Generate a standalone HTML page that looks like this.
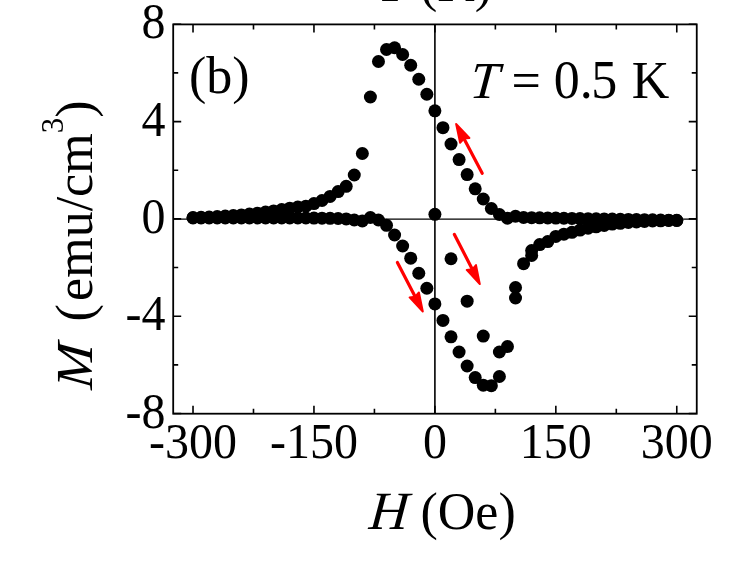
<!DOCTYPE html>
<html><head><meta charset="utf-8"><title>M-H loop</title>
<style>
html,body{margin:0;padding:0;background:#fff}
svg{display:block}
text{font-family:"Liberation Serif","Times New Roman",serif;fill:#000}
</style></head>
<body>
<svg width="732" height="564" viewBox="0 0 732 564">
<rect width="732" height="564" fill="#fff"/>
<g font-size="52">
<text transform="translate(377.5,1.4) skewX(-5)" font-style="italic">T</text>
<text x="419.9" y="1.4">(K)</text>
<text x="189" y="93">(b)</text>
<text transform="translate(469,97.5) skewX(-5)" font-style="italic">T</text>
<text x="511.5" y="97.5">=</text><text transform="translate(553.8,97.5) scale(1,1.045)">0.<tspan dx="-1.5">5</tspan></text><text x="631.8" y="97.5">K</text>
<text transform="translate(368.3,529.3) skewX(-5)" font-style="italic" font-size="54">H</text>
<text x="420.5" y="529.3">(Oe)</text>
<text transform="translate(91.9,390) rotate(-90) skewX(-5) scale(1.05,1)" font-style="italic">M</text>
<text transform="translate(92.3,321.4) rotate(-90)">(<tspan dx="3.2">emu/cm</tspan><tspan font-size="31" dy="-29.2">3</tspan><tspan dy="29.2">)</tspan></text>
</g>
<g font-size="48"><text transform="translate(193.0,458.3) scale(1,1.045)" text-anchor="middle">-300</text><text transform="translate(314.0,458.3) scale(1,1.045)" text-anchor="middle">-150</text><text transform="translate(434.9,458.3) scale(1,1.045)" text-anchor="middle">0</text><text transform="translate(555.8,458.3) scale(1,1.045)" text-anchor="middle">150</text><text transform="translate(676.8,458.3) scale(1,1.045)" text-anchor="middle">300</text><text transform="translate(165.5,427.5) scale(1,1.045)" text-anchor="end">-8</text><text transform="translate(165.5,330.2) scale(1,1.045)" text-anchor="end">-4</text><text transform="translate(165.5,232.9) scale(1,1.045)" text-anchor="end">0</text><text transform="translate(165.5,135.6) scale(1,1.045)" text-anchor="end">4</text><text transform="translate(165.5,38.3) scale(1,1.045)" text-anchor="end">8</text></g>
<g fill="none" stroke="#000">
<rect x="173.2" y="24.4" width="523.55" height="389.3" stroke-width="1.8"/>
<path d="M193.02 24.4v8 M193.02 413.7v-8 M313.96 24.4v8 M313.96 413.7v-8 M434.90 24.4v8 M434.90 413.7v-8 M555.84 24.4v8 M555.84 413.7v-8 M676.77 24.4v8 M676.77 413.7v-8 M253.49 24.4v5 M253.49 413.7v-5 M374.43 24.4v5 M374.43 413.7v-5 M495.37 24.4v5 M495.37 413.7v-5 M616.31 24.4v5 M616.31 413.7v-5 M173.2 413.54h8 M696.75 413.54h-8 M173.2 316.22h8 M696.75 316.22h-8 M173.2 218.90h8 M696.75 218.90h-8 M173.2 121.58h8 M696.75 121.58h-8 M173.2 24.26h8 M696.75 24.26h-8 M173.2 364.88h5 M696.75 364.88h-5 M173.2 267.56h5 M696.75 267.56h-5 M173.2 170.24h5 M696.75 170.24h-5 M173.2 72.92h5 M696.75 72.92h-5" stroke-width="1.6"/>
<path d="M173.2 219.15H696.75" stroke-width="1.3"/><path d="M434.9 24.4V413.7" stroke-width="1.6"/>
</g>
<g fill="#000">
<circle cx="193.02" cy="217.50" r="6.5"/>
<circle cx="201.09" cy="217.30" r="6.5"/>
<circle cx="209.15" cy="217.00" r="6.5"/>
<circle cx="217.21" cy="216.60" r="6.5"/>
<circle cx="225.27" cy="216.10" r="6.5"/>
<circle cx="233.34" cy="215.60" r="6.5"/>
<circle cx="241.40" cy="214.90" r="6.5"/>
<circle cx="249.46" cy="214.10" r="6.5"/>
<circle cx="257.52" cy="213.20" r="6.5"/>
<circle cx="265.59" cy="212.10" r="6.5"/>
<circle cx="273.65" cy="210.90" r="6.5"/>
<circle cx="281.71" cy="209.60" r="6.5"/>
<circle cx="289.77" cy="208.20" r="6.5"/>
<circle cx="297.84" cy="207.00" r="6.5"/>
<circle cx="305.90" cy="206.20" r="6.5"/>
<circle cx="313.96" cy="203.60" r="6.5"/>
<circle cx="322.02" cy="200.50" r="6.5"/>
<circle cx="330.09" cy="196.40" r="6.5"/>
<circle cx="338.15" cy="191.60" r="6.5"/>
<circle cx="346.21" cy="186.30" r="6.5"/>
<circle cx="354.27" cy="175.00" r="6.5"/>
<circle cx="362.34" cy="153.50" r="6.5"/>
<circle cx="370.40" cy="97.00" r="6.5"/>
<circle cx="378.46" cy="61.50" r="6.5"/>
<circle cx="386.52" cy="49.50" r="6.5"/>
<circle cx="394.59" cy="47.75" r="6.5"/>
<circle cx="402.65" cy="54.50" r="6.5"/>
<circle cx="410.71" cy="65.25" r="6.5"/>
<circle cx="418.77" cy="79.25" r="6.5"/>
<circle cx="426.84" cy="94.25" r="6.5"/>
<circle cx="434.90" cy="110.80" r="6.5"/>
<circle cx="442.96" cy="127.70" r="6.5"/>
<circle cx="451.02" cy="144.00" r="6.5"/>
<circle cx="459.09" cy="159.60" r="6.5"/>
<circle cx="467.15" cy="174.60" r="6.5"/>
<circle cx="475.21" cy="188.85" r="6.5"/>
<circle cx="483.27" cy="199.00" r="6.5"/>
<circle cx="491.34" cy="208.50" r="6.5"/>
<circle cx="499.40" cy="214.50" r="6.5"/>
<circle cx="507.46" cy="218.25" r="6.5"/>
<circle cx="515.52" cy="216.25" r="6.5"/>
<circle cx="523.59" cy="217.50" r="6.5"/>
<circle cx="531.65" cy="217.65" r="6.5"/>
<circle cx="539.71" cy="217.79" r="6.5"/>
<circle cx="547.77" cy="217.94" r="6.5"/>
<circle cx="555.84" cy="218.09" r="6.5"/>
<circle cx="563.90" cy="218.24" r="6.5"/>
<circle cx="571.96" cy="218.38" r="6.5"/>
<circle cx="580.02" cy="218.53" r="6.5"/>
<circle cx="588.09" cy="218.68" r="6.5"/>
<circle cx="596.15" cy="218.83" r="6.5"/>
<circle cx="604.21" cy="218.97" r="6.5"/>
<circle cx="612.27" cy="219.12" r="6.5"/>
<circle cx="620.34" cy="219.27" r="6.5"/>
<circle cx="628.40" cy="219.42" r="6.5"/>
<circle cx="636.46" cy="219.56" r="6.5"/>
<circle cx="644.52" cy="219.71" r="6.5"/>
<circle cx="652.59" cy="219.86" r="6.5"/>
<circle cx="660.65" cy="220.01" r="6.5"/>
<circle cx="668.71" cy="220.15" r="6.5"/>
<circle cx="676.77" cy="220.30" r="6.5"/>
<circle cx="370.40" cy="217.50" r="6.5"/>
<circle cx="362.34" cy="221.00" r="6.5"/>
<circle cx="354.27" cy="220.00" r="6.5"/>
<circle cx="346.21" cy="218.90" r="6.5"/>
<circle cx="338.15" cy="218.50" r="6.5"/>
<circle cx="330.09" cy="218.30" r="6.5"/>
<circle cx="322.02" cy="218.20" r="6.5"/>
<circle cx="313.96" cy="218.10" r="6.5"/>
<circle cx="378.46" cy="220.00" r="6.5"/>
<circle cx="386.52" cy="225.30" r="6.5"/>
<circle cx="394.59" cy="235.00" r="6.5"/>
<circle cx="402.65" cy="246.00" r="6.5"/>
<circle cx="410.71" cy="258.20" r="6.5"/>
<circle cx="418.77" cy="273.25" r="6.5"/>
<circle cx="426.84" cy="288.25" r="6.5"/>
<circle cx="434.90" cy="303.90" r="6.5"/>
<circle cx="442.96" cy="320.40" r="6.5"/>
<circle cx="451.02" cy="336.80" r="6.5"/>
<circle cx="459.09" cy="352.00" r="6.5"/>
<circle cx="467.15" cy="366.00" r="6.5"/>
<circle cx="475.21" cy="377.60" r="6.5"/>
<circle cx="483.27" cy="385.20" r="6.5"/>
<circle cx="491.34" cy="385.70" r="6.5"/>
<circle cx="499.40" cy="376.50" r="6.5"/>
<circle cx="507.46" cy="346.60" r="6.5"/>
<circle cx="515.52" cy="298.00" r="6.5"/>
<circle cx="523.59" cy="263.70" r="6.5"/>
<circle cx="531.65" cy="255.50" r="6.5"/>
<circle cx="539.71" cy="244.60" r="6.5"/>
<circle cx="547.77" cy="241.60" r="6.5"/>
<circle cx="555.84" cy="236.40" r="6.5"/>
<circle cx="563.90" cy="234.20" r="6.5"/>
<circle cx="571.96" cy="232.30" r="6.5"/>
<circle cx="580.02" cy="230.10" r="6.5"/>
<circle cx="588.09" cy="228.20" r="6.5"/>
<circle cx="596.15" cy="226.80" r="6.5"/>
<circle cx="604.21" cy="225.50" r="6.5"/>
<circle cx="612.27" cy="224.10" r="6.5"/>
<circle cx="620.34" cy="223.30" r="6.5"/>
<circle cx="628.40" cy="222.50" r="6.5"/>
<circle cx="636.46" cy="221.90" r="6.5"/>
<circle cx="644.52" cy="221.40" r="6.5"/>
<circle cx="652.59" cy="221.00" r="6.5"/>
<circle cx="660.65" cy="220.80" r="6.5"/>
<circle cx="668.71" cy="220.50" r="6.5"/>
<circle cx="676.77" cy="220.50" r="6.5"/>
<circle cx="193.02" cy="217.90" r="6.5"/>
<circle cx="201.09" cy="217.90" r="6.5"/>
<circle cx="209.15" cy="217.90" r="6.5"/>
<circle cx="217.21" cy="217.90" r="6.5"/>
<circle cx="225.27" cy="217.90" r="6.5"/>
<circle cx="233.34" cy="217.90" r="6.5"/>
<circle cx="241.40" cy="217.90" r="6.5"/>
<circle cx="249.46" cy="217.90" r="6.5"/>
<circle cx="257.52" cy="217.90" r="6.5"/>
<circle cx="265.59" cy="217.90" r="6.5"/>
<circle cx="273.65" cy="217.90" r="6.5"/>
<circle cx="281.71" cy="217.90" r="6.5"/>
<circle cx="289.77" cy="217.90" r="6.5"/>
<circle cx="297.84" cy="217.90" r="6.5"/>
<circle cx="305.90" cy="217.90" r="6.5"/>
<circle cx="434.90" cy="214.30" r="6.5"/>
<circle cx="451.02" cy="258.75" r="6.5"/>
<circle cx="467.15" cy="301.20" r="6.5"/>
<circle cx="483.27" cy="336.10" r="6.5"/>
<circle cx="499.40" cy="352.00" r="6.5"/>
<circle cx="515.52" cy="287.50" r="6.5"/>
<circle cx="531.65" cy="250.60" r="6.5"/>
</g>
<line x1="482.2" y1="173.3" x2="463.9" y2="138.6" stroke="#f00" stroke-width="3.2" stroke-linecap="round"/><polygon fill="#f00" stroke="#f00" stroke-width="2" stroke-linejoin="round" points="456.1,123.9 469.4,137.9 463.9,138.6 460.1,142.8"/><line x1="397.4" y1="262.4" x2="415.2" y2="296.7" stroke="#f00" stroke-width="3.2" stroke-linecap="round"/><polygon fill="#f00" stroke="#f00" stroke-width="2" stroke-linejoin="round" points="422.8,311.5 409.6,297.4 415.2,296.7 418.9,292.5"/><line x1="454.4" y1="234.4" x2="472.3" y2="269.3" stroke="#f00" stroke-width="3.2" stroke-linecap="round"/><polygon fill="#f00" stroke="#f00" stroke-width="2" stroke-linejoin="round" points="479.8,284.1 466.7,269.9 472.3,269.3 476.0,265.1"/>
</svg>
</body></html>
